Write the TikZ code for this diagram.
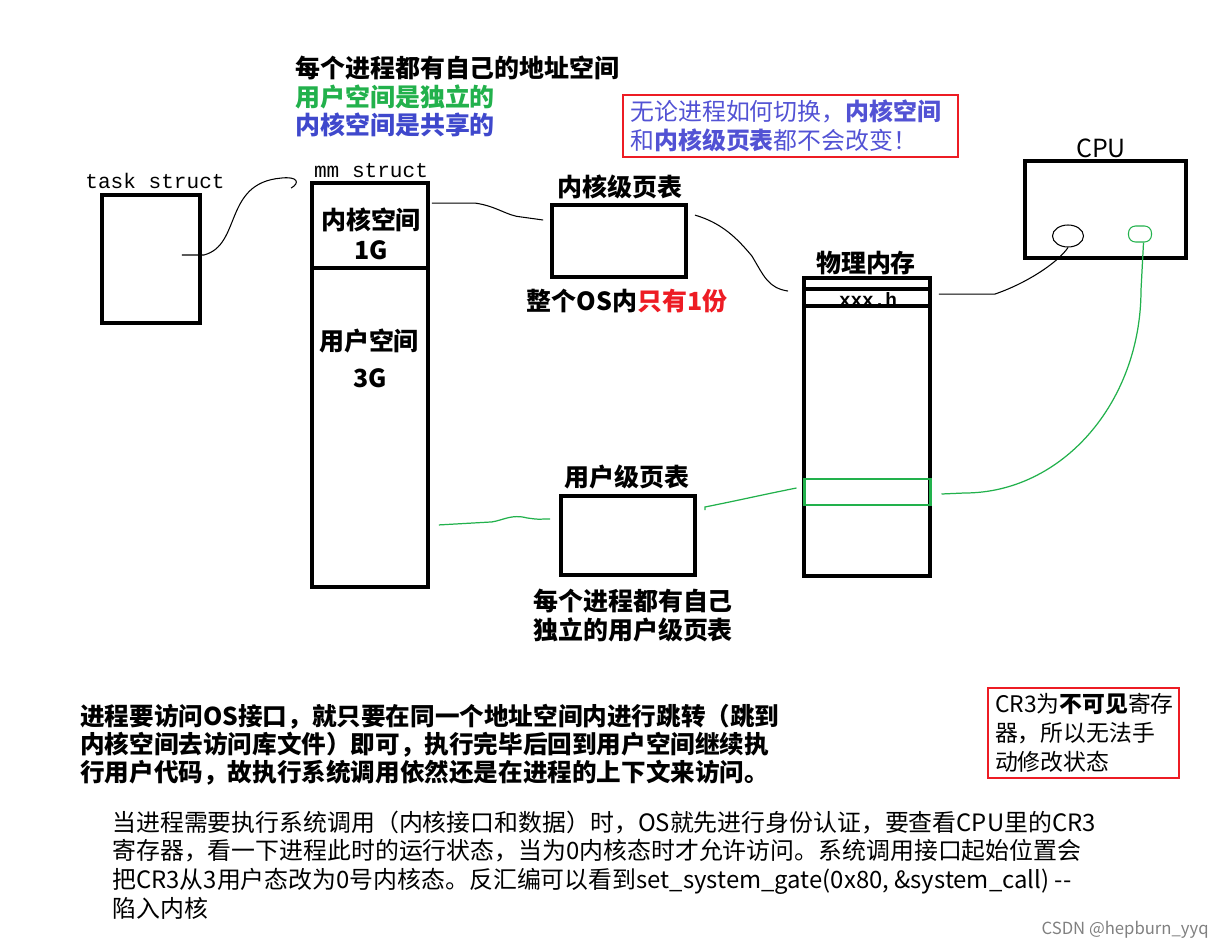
\documentclass[tikz,border=0pt]{standalone}
\usepackage{fontspec}
\setmainfont{Noto Sans CJK SC}
\newfontfamily\monofont{Liberation Mono}
\usetikzlibrary{positioning,shapes.geometric}

\definecolor{paintgreen}{RGB}{34,177,76}
\definecolor{paintblue}{RGB}{63,72,204}
\definecolor{paintred}{RGB}{237,28,36}
\definecolor{notecolor}{RGB}{82,82,212}

\def\pu{0.02cm}

\tikzset{
  blockbox/.style={draw, line width=2.2pt, inner sep=0pt},
  notebox/.style={draw=paintred, line width=0.8pt, inner sep=0pt},
  lbl/.style={inner sep=0pt, font=\fontsize{14.2}{17}\selectfont\bfseries},
  plain/.style={inner sep=0pt, font=\fontsize{14.2}{17}\selectfont},
  mono/.style={inner sep=0pt, font=\fontsize{12}{14}\selectfont\monofont},
  wire/.style={line width=0.6pt},
  gwire/.style={line width=0.7pt, paintgreen},
}

\begin{document}
\begin{tikzpicture}[x=0.02cm, y=-0.02cm]
    \useasboundingbox (0,0) rectangle (1224,950);

    % Titolo in alto
    \node[lbl, anchor=west] (title) at (295,68) {每个进程都有自己的地址空间};
    \node[lbl, anchor=west, text=paintgreen] (usertitle) at (295,97) {用户空间是独立的};
    \node[lbl, anchor=west, text=paintblue] (kerntitle) at (295,125) {内核空间是共享的};

    % Riquadro rosso in alto
    \node[notebox, minimum width=335*\pu, minimum height=62*\pu, text width=320*\pu,
          inner xsep=7.5*\pu, align=left, text=notecolor,
          font=\fontsize{13.6}{16.5}\selectfont] (note) at (790.5,126)
        {无论进程如何切换，\textbf{内核空间}\\和\textbf{内核级页表}都不会改变！};

    % task struct
    \node[blockbox, minimum width=98*\pu, minimum height=128*\pu] (task) at (151,259) {};
    \node[mono] (tasklbl) at (155,181) {task struct};

    % mm struct
    \node[blockbox, minimum width=116*\pu, minimum height=404*\pu] (mm) at (370,385) {};
    \node[mono] (mmlbl) at (371,171) {mm struct};
    \draw[line width=2.2pt] (mm.north west) ++(0,87) -- ++(116,0);
    \node[lbl] (kspace) at (371,220) {内核空间};
    \node[lbl] (kgb) at (371,250) {1G};
    \node[lbl] (uspace) at (369,341) {用户空间};
    \node[lbl] (ugb) at (370,378) {3G};

    % Tabelle delle pagine
    \node[blockbox, minimum width=134*\pu, minimum height=72*\pu] (kpt) at (619,241) {};
    \node[lbl] (kptlbl) at (620,187) {内核级页表};
    \node[lbl] (kptnote) at (627,301) {整个OS内\textcolor{paintred}{只有1份}};

    \node[blockbox, minimum width=134*\pu, minimum height=79*\pu] (upt) at (628,535.5) {};
    \node[lbl] (uptlbl) at (627,477) {用户级页表};
    \node[lbl, anchor=west, align=left] (uptnote) at (533,615.5) {每个进程都有自己\\[-0.5pt]独立的用户级页表};

    % Memoria fisica
    \node[blockbox, minimum width=126*\pu, minimum height=298*\pu] (mem) at (867,427) {};
    \node[lbl] (memlbl) at (866,263) {物理内存};
    \draw[line width=2.2pt] (mem.north west) ++(0,13) -- ++(126,0);
    \draw[line width=2.2pt] (mem.north west) ++(0,30) -- ++(126,0);
    \node[mono, font=\fontsize{11}{13}\selectfont\monofont\bfseries] (xxxh) at (868,299) {xxx.h};
    \node[draw=paintgreen, line width=1.7pt, inner sep=0pt,
          minimum width=126*\pu, minimum height=26*\pu] (ublock) at (867,492) {};

    % CPU
    \node[blockbox, minimum width=161*\pu, minimum height=97*\pu] (cpu) at (1105.5,209.5) {};
    \node[plain] (cpulbl) at (1101,148) {CPU};
    \node[draw, ellipse, line width=0.6pt, inner sep=0pt,
          minimum width=31*\pu, minimum height=22*\pu] (kreg) at (1068,236) {};
    \node[draw=paintgreen, line width=0.6pt, rounded corners=4pt, inner sep=0pt,
          minimum width=23*\pu, minimum height=16*\pu] (ureg) at (1140,234) {};

    % Collegamenti
    \draw[wire] ([shift={(-20,-4)}]task.east) -- ++(22,0)
        .. controls +(38,-10) and +(-58,5) .. ([shift={(-29,-3)}]mm.north west)
        .. controls +(17,-2) and +(9,-5) .. ([shift={(-19,7)}]mm.north west);
    \draw[wire] ([shift={(2,22)}]mm.north east) -- ++(43,0)
        .. controls +(22,3) and +(-15,-1) .. ++(47,14) -- ([shift={(-7,-21)}]kpt.west);
    \draw[wire] ([shift={(7,12)}]kpt.north east)
        .. controls +(27,8) and +(-15,-18) .. ++(57,41)
        .. controls +(12,20) and +(-20,-3) .. ([shift={(-14,15)}]mem.north west);
    \draw[wire] ([shift={(7,18)}]mem.north east) -- ++(56,0)
        .. controls +(32,-11) and +(-10,15) .. (kreg.south);
    \draw[gwire] ([shift={(9,-64)}]mm.south east) -- ++(53,-3)
        .. controls +(12,-2) and +(-15,-4) .. ++(35,-4)
        .. controls +(15,2) and +(-15,0) .. ([shift={(-9,-16.5)}]upt.west);
    \draw[gwire] ([shift={(8,-25.5)}]upt.east) -- ++(0,-3)
        .. controls +(40,-8) and +(-40,8) .. ([shift={(-6,-4)}]ublock.west);
    \draw[gwire] ([shift={(10,2)}]ublock.east) -- ++(23,-1)
        .. controls +(98,0) and +(0,112) .. (1141,290) -- ([xshift=2pt]ureg.south);

    % Testo in basso
    \node[lbl, anchor=west, align=left, font=\fontsize{14}{15.9}\selectfont\bfseries] (para1) at (80,745)
        {进程要访问OS接口，就只要在同一个地址空间内进行跳转（跳到\\
         内核空间去访问库文件）即可，执行完毕后回到用户空间继续执\\
         行用户代码，故执行系统调用依然还是在进程的上下文来访问。};
    \node[plain, anchor=west, align=left, font=\fontsize{13.6}{16.3}\selectfont] (para2) at (112,865)
        {当进程需要执行系统调用（内核接口和数据）时，OS就先进行身份认证，要查看CPU里的CR3\\
         寄存器，看一下进程此时的运行状态，当为0内核态时才允许访问。系统调用接口起始位置会\\
         把CR3从3用户态改为0号内核态。反汇编可以看到set\_system\_gate(0x80, \&system\_call) -{}-\\
         陷入内核};

    % Riquadro CR3
    \node[notebox, minimum width=191*\pu, minimum height=90*\pu, text width=177*\pu,
          inner xsep=7*\pu, align=left,
          font=\fontsize{13}{16.5}\selectfont] (cr3note) at (1083.5,733)
        {CR3为\textbf{不可见}寄存\\器，所以无法手\\动修改状态};

    % Filigrana
    \node[inner sep=0pt, anchor=east, text=gray, font=\fontsize{9.5}{11}\selectfont] (mark) at (1209,930) {CSDN @hepburn\_yyq};
\end{tikzpicture}
\end{document}
